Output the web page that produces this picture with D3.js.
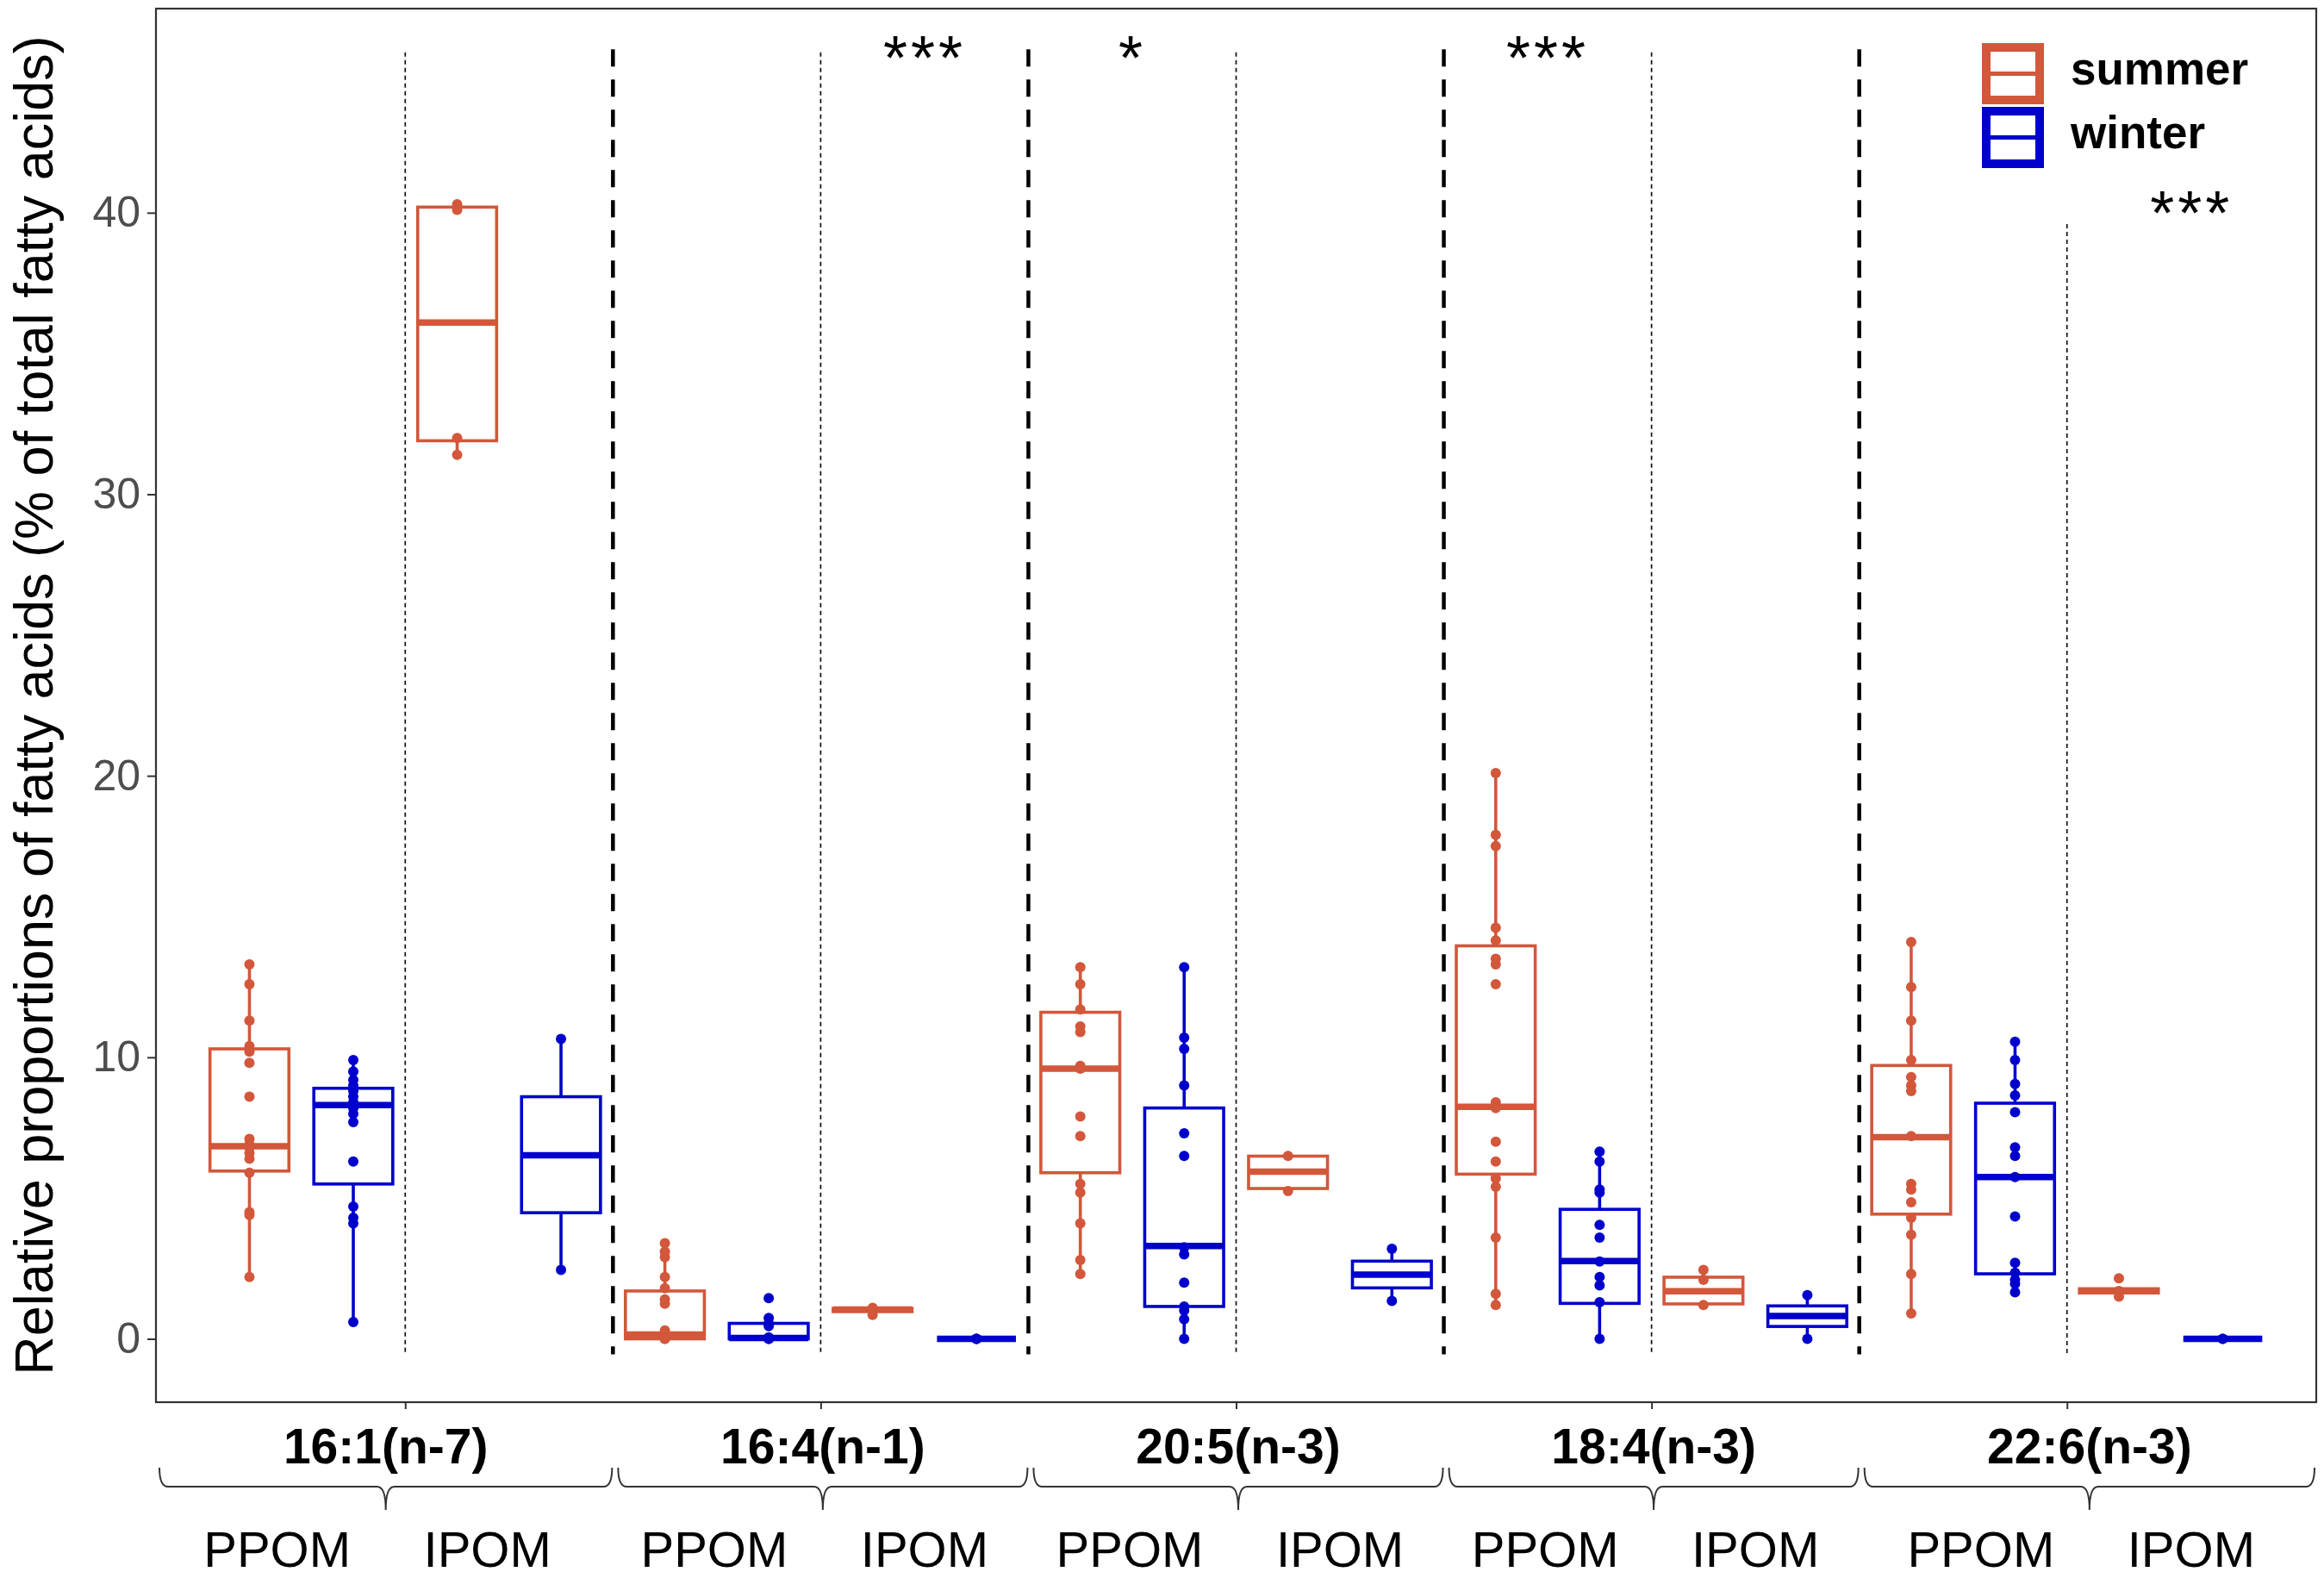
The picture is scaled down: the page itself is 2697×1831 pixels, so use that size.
<!DOCTYPE html>
<html>
<head>
<meta charset="utf-8">
<script src="https://cdn.jsdelivr.net/npm/d3@7/dist/d3.min.js"></script>
<style>
  body { margin: 0; background: #fff; }
  text { font-family: "Liberation Sans", Arial, sans-serif; }
</style>
</head>
<body>
<script>
// fatty acids, fractions and seasons (box order: acid -> fraction -> season)
var fattyAcids = ["16:1(n-7)", "16:4(n-1)", "20:5(n-3)", "18:4(n-3)", "22:6(n-3)"];
var fractions = ["PPOM", "IPOM"];
var seasons = ["summer", "winter"];
var seasonColors = ["#D2573B", "#0000CD"];

// box statistics, one value per box (20 boxes)
var whiskerLow = [2.2, 0.6, 31.4, 2.45,  0, 0, 0.85, 0,  2.3, 0, 5.25, 1.35,  1.2, 0, 1.2, 0,  0.9, 1.65, 1.55, 0];
var quart1     = [5.96, 5.5, 31.9, 4.48,  0, 0, 0.97, 0,  5.9, 1.15, 5.34, 1.81,  5.85, 1.26, 1.24, 0.44,  4.43, 2.31, 1.63, 0];
var medians    = [6.84, 8.3, 36.1, 6.52,  0.15, 0.03, 1.04, 0,  9.6, 3.3, 5.94, 2.28,  8.24, 2.76, 1.69, 0.81,  7.16, 5.75, 1.71, 0];
var quart3     = [10.3, 8.9, 40.2, 8.6,  1.7, 0.55, 1.08, 0,  11.6, 8.2, 6.49, 2.76,  13.96, 4.6, 2.19, 1.17,  9.71, 8.37, 1.78, 0];
var whiskerHigh= [13.3, 9.9, 40.3, 10.65,  3.4, 0.74, 1.1, 0,  13.2, 13.2, 6.5, 3.2,  20.1, 6.65, 2.45, 1.55,  14.1, 10.55, 1.8, 0];

// individual samples per box
var samples = [
  [13.3, 12.6, 11.3, 10.4, 10.2, 9.8, 8.6, 7.1, 6.9, 6.8, 6.6, 6.4, 5.9, 4.5, 4.4, 2.2],
  [9.9, 9.5, 9.2, 9.0, 8.8, 8.6, 8.4, 8.2, 8.0, 7.7, 6.3, 4.7, 4.3, 4.1, 0.6],
  [40.3, 40.1, 32.0, 31.4],
  [10.65, 2.45],
  [3.4, 3.1, 2.9, 2.2, 1.8, 1.4, 1.25, 0.3, 0.15, 0.05, 0, 0],
  [1.45, 0.74, 0.55, 0.45, 0.05, 0, 0],
  [1.1, 1.05, 0.85],
  [0, 0, 0],
  [13.2, 12.6, 11.7, 11.1, 10.9, 9.7, 9.6, 7.9, 7.2, 5.5, 5.2, 4.1, 2.8, 2.3],
  [13.2, 10.7, 10.3, 9.0, 7.3, 6.5, 3.25, 3.0, 2.0, 1.15, 1.0, 0.7, 0],
  [6.5, 5.25],
  [3.2, 1.35],
  [20.1, 17.9, 17.5, 14.6, 14.15, 13.5, 13.3, 12.6, 8.4, 8.2, 7.0, 6.3, 5.7, 5.4, 3.6, 1.6, 1.2],
  [6.65, 6.3, 5.3, 5.2, 4.05, 3.6, 2.75, 2.2, 1.9, 1.3, 0],
  [2.45, 2.1, 1.2],
  [1.55, 0],
  [14.1, 12.5, 11.3, 9.9, 9.3, 9.0, 8.8, 7.2, 5.5, 5.3, 4.85, 4.3, 3.7, 2.3, 0.9],
  [10.55, 9.9, 9.05, 8.65, 8.05, 6.8, 6.5, 5.75, 4.35, 2.7, 2.35, 2.1, 1.95, 1.65],
  [2.15, 1.7, 1.5],
  [0, 0]
];

var yTicks = [0, 10, 20, 30, 40];

// significance marks: box position (index units), height (data units)
var starLabels = ["***", "*", "***", "***"];
var starPos = [6.5, 8.5, 12.5, 18.7];
var starY = [46.0, 46.0, 46.0, 40.5];

// separator lines: tops of the thin lines inside each acid
var thinTop = [45.7, 45.7, 45.7, 45.7, 39.6];
var dashTop = 45.8;
var lineBottom = -0.55;

var width = 2697, height = 1831;
var panel = { left: 181, right: 2688, top: 10, bottom: 1627 };

var svg = d3.select("body").append("svg")
  .attr("width", width)
  .attr("height", height);

var x = d3.scaleLinear().domain([-0.9, 19.9]).range([panel.left, panel.right]);
var y = d3.scaleLinear().domain([-2.25, 47.25]).range([panel.bottom, panel.top]);

var boxes = [];
fattyAcids.forEach(function(fa, g) {
  fractions.forEach(function(fr, f) {
    seasons.forEach(function(s, k) {
      var i = g * 4 + f * 2 + k;
      boxes.push({
        i: i, season: k,
        low: whiskerLow[i], q1: quart1[i], med: medians[i], q3: quart3[i], high: whiskerHigh[i],
        pts: samples[i]
      });
    });
  });
});

// separator lines
var sep = svg.append("g");
fattyAcids.forEach(function(fa, g) {
  sep.append("line")
    .attr("x1", x(g * 4 + 1.5)).attr("x2", x(g * 4 + 1.5))
    .attr("y1", y(thinTop[g])).attr("y2", y(lineBottom))
    .attr("stroke", "#111").attr("stroke-width", 1.7)
    .attr("stroke-dasharray", "5,4");
  if (g > 0) {
    sep.append("line")
      .attr("x1", x(g * 4 - 0.5)).attr("x2", x(g * 4 - 0.5))
      .attr("y1", y(dashTop)).attr("y2", y(lineBottom))
      .attr("stroke", "#000").attr("stroke-width", 4.5)
      .attr("stroke-dasharray", "20,15");
  }
});

// boxes
var bw = 0.76;
var bx = svg.append("g").selectAll("g").data(boxes).enter().append("g");

bx.append("line")
  .attr("x1", function(d) { return x(d.i); }).attr("x2", function(d) { return x(d.i); })
  .attr("y1", function(d) { return y(d.q3); }).attr("y2", function(d) { return y(d.high); })
  .attr("stroke", function(d) { return seasonColors[d.season]; })
  .attr("stroke-width", 3.6);
bx.append("line")
  .attr("x1", function(d) { return x(d.i); }).attr("x2", function(d) { return x(d.i); })
  .attr("y1", function(d) { return y(d.q1); }).attr("y2", function(d) { return y(d.low); })
  .attr("stroke", function(d) { return seasonColors[d.season]; })
  .attr("stroke-width", 3.6);
bx.append("rect")
  .attr("x", function(d) { return x(d.i - bw / 2); })
  .attr("width", x(bw) - x(0))
  .attr("y", function(d) { return y(d.q3); })
  .attr("height", function(d) { return y(d.q1) - y(d.q3); })
  .attr("fill", "#fff")
  .attr("stroke", function(d) { return seasonColors[d.season]; })
  .attr("stroke-width", 3.6);
bx.append("line")
  .attr("x1", function(d) { return x(d.i - bw / 2); })
  .attr("x2", function(d) { return x(d.i + bw / 2); })
  .attr("y1", function(d) { return y(d.med); }).attr("y2", function(d) { return y(d.med); })
  .attr("stroke", function(d) { return seasonColors[d.season]; })
  .attr("stroke-width", 7.5);

bx.selectAll("circle")
  .data(function(d) { return d.pts.map(function(v) { return { i: d.i, v: v, season: d.season }; }); })
  .enter().append("circle")
  .attr("cx", function(d) { return x(d.i); })
  .attr("cy", function(d) { return y(d.v); })
  .attr("r", 6)
  .attr("fill", function(d) { return seasonColors[d.season]; });

// significance stars
svg.append("g").selectAll("text").data(starLabels).enter().append("text")
  .attr("x", function(d, i) { return x(starPos[i]); })
  .attr("y", function(d, i) { return y(starY[i]) + 41; })
  .attr("text-anchor", "middle")
  .attr("font-size", 72)
  .attr("letter-spacing", 4)
  .text(function(d) { return d; });

// panel border
svg.append("rect")
  .attr("x", panel.left).attr("y", panel.top)
  .attr("width", panel.right - panel.left).attr("height", panel.bottom - panel.top)
  .attr("fill", "none").attr("stroke", "#333").attr("stroke-width", 2.2);

// y axis
var yAxis = d3.axisLeft(y).tickValues(yTicks).tickSize(10).tickPadding(8);
var ya = svg.append("g").attr("transform", "translate(" + panel.left + ",0)").call(yAxis);
ya.select(".domain").remove();
ya.selectAll(".tick line").attr("stroke", "#333").attr("stroke-width", 2);
ya.selectAll(".tick text")
  .attr("fill", "#4D4D4D")
  .attr("font-size", 50)
  .attr("font-family", "'Liberation Sans', Arial, sans-serif");

svg.append("text")
  .attr("transform", "translate(61," + ((panel.top + panel.bottom) / 2) + ") rotate(-90)")
  .attr("text-anchor", "middle")
  .attr("font-size", 63)
  .attr("fill", "#000")
  .text("Relative proportions of fatty acids (% of total fatty acids)");

// x axis ticks under each acid
var xAxis = d3.axisBottom(x)
  .tickValues(fattyAcids.map(function(d, g) { return g * 4 + 1.5; }))
  .tickSize(8).tickFormat("");
var xa = svg.append("g").attr("transform", "translate(0," + panel.bottom + ")").call(xAxis);
xa.select(".domain").remove();
xa.selectAll(".tick line").attr("stroke", "#333").attr("stroke-width", 2);

// acid labels, braces and fraction labels
var lab = svg.append("g");
fattyAcids.forEach(function(fa, g) {
  var left = g === 0 ? panel.left + 4 : x(g * 4 - 0.5) + 6;
  var right = g === fattyAcids.length - 1 ? panel.right - 2 : x(g * 4 + 3.5) - 1;
  var mid = (left + right) / 2;
  var yTop = 1703, yMid = 1725, yTip = 1752, c = 10;

  lab.append("text")
    .attr("x", mid).attr("y", 1698)
    .attr("text-anchor", "middle")
    .attr("font-size", 57).attr("font-weight", "bold")
    .text(fa);

  var p = d3.path();
  p.moveTo(left, yTop);
  p.quadraticCurveTo(left, yMid, left + c, yMid);
  p.lineTo(mid - c, yMid);
  p.quadraticCurveTo(mid, yMid, mid, yTip);
  p.quadraticCurveTo(mid, yMid, mid + c, yMid);
  p.lineTo(right - c, yMid);
  p.quadraticCurveTo(right, yMid, right, yTop);
  lab.append("path").attr("d", p.toString())
    .attr("fill", "none").attr("stroke", "#333").attr("stroke-width", 2);

  fractions.forEach(function(fr, f) {
    lab.append("text")
      .attr("x", f === 0 ? mid - 126 : mid + 118)
      .attr("y", 1818)
      .attr("text-anchor", "middle")
      .attr("font-size", 58)
      .text(fr);
  });
});

// legend
var leg = svg.append("g");
seasons.forEach(function(s, k) {
  var top = k === 0 ? 55 : 129;
  leg.append("rect")
    .attr("x", 2305).attr("y", top).attr("width", 62).attr("height", 61)
    .attr("fill", "#fff").attr("stroke", seasonColors[k]).attr("stroke-width", 10);
  leg.append("line")
    .attr("x1", 2305).attr("x2", 2367)
    .attr("y1", top + 30.5).attr("y2", top + 30.5)
    .attr("stroke", seasonColors[k]).attr("stroke-width", 5);
  leg.append("text")
    .attr("x", 2403).attr("y", top + 43)
    .attr("font-size", 53).attr("font-weight", "bold")
    .text(s);
});
</script>
</body>
</html>
